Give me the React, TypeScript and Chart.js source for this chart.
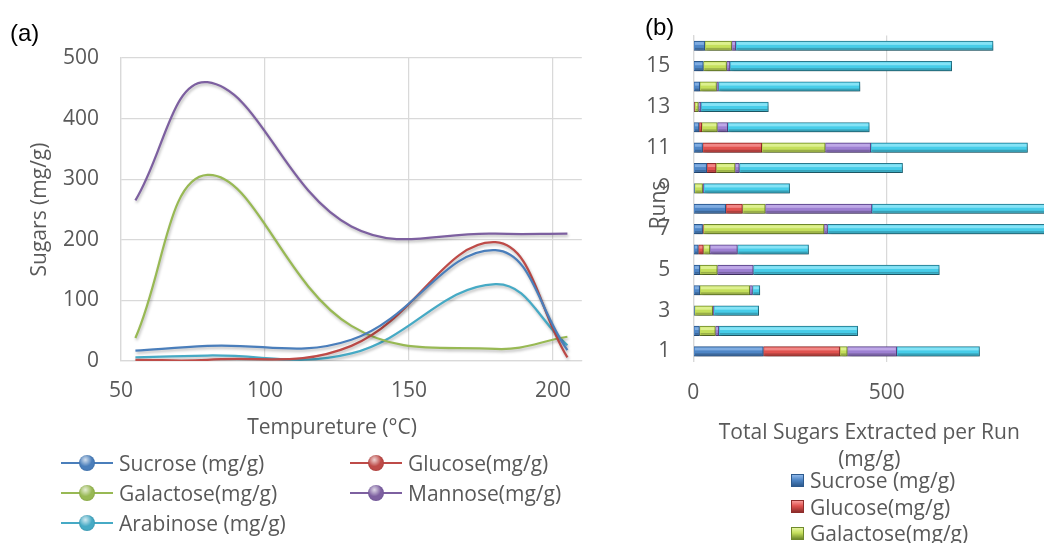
import React, { useEffect, useRef } from 'react';
import { Chart, registerables } from 'chart.js';

Chart.register(...registerables);

// ---------- Panel (a) data ----------
const temperatures = [55, 80, 130, 180, 205];
const sucroseByTemp = [17, 25, 35, 183, 18];
const glucoseByTemp = [2, 2, 25, 196, 6];
const galactoseByTemp = [38, 307, 58, 20, 40];
const mannoseByTemp = [265, 460, 222, 210, 210];
const arabinoseByTemp = [6, 9, 12.5, 127, 26];
const tempTicks = [50, 100, 150, 200];
const sugarTicks = [0, 100, 200, 300, 400, 500];

// ---------- Panel (b) data ----------
const runs = ['1', '2', '3', '4', '5', '6', '7', '8', '9', '10', '11', '12', '13', '14', '15', '16'];
const runSucrose = [181, 16, 3, 17, 17, 13, 24, 84, 3, 35, 24, 15, 2, 17, 26, 30];
const runGlucose = [198, 0, 0, 0, 0, 13, 2, 43, 0, 24, 153, 7, 2, 0, 0, 0];
const runGalactose = [19, 41, 47, 129, 45, 17, 312, 59, 21, 49, 164, 40, 9, 43, 60, 69];
const runMannose = [128, 9, 3, 7, 93, 71, 9, 276, 3, 11, 118, 27, 7, 5, 9, 11];
const runArabinose = [214, 359, 116, 19, 481, 184, 650, 520, 222, 422, 405, 366, 174, 366, 573, 665];
const totalTicks = [0, 500];

const seriesNames = ['Sucrose (mg/g)', 'Glucose(mg/g)', 'Galactose(mg/g)', 'Mannose(mg/g)', 'Arabinose (mg/g)'];
const lineColors = ['#4a7ebb', '#be4b48', '#98b954', '#7d60a0', '#46aac5'];
const barFill = ['#4f86c6', '#e0524f', '#c4df5b', '#9d80d2', '#47cde9'];
const barEdge = ['#2d5a8e', '#8e2d2b', '#6f8a2c', '#5a4487', '#2a7a8e'];
const barLight = ['#8fb8ea', '#f79a98', '#e6f5a0', '#c9b6ee', '#9aeafa'];

const FONT = '"Open Sans", "Noto Sans", sans-serif';
const TXT = '#595959';
const GRID = '#d9d9d9';

const tickFont = { family: FONT, size: 21 };

const lineShadowPlugin = {
  id: 'lineShadow',
  beforeDatasetsDraw(chart: any) {
    const ctx = chart.ctx;
    ctx.save();
    ctx.shadowColor = 'rgba(0,0,0,0.28)';
    ctx.shadowBlur = 3;
    ctx.shadowOffsetX = 1;
    ctx.shadowOffsetY = 2;
  },
  afterDatasetsDraw(chart: any) {
    chart.ctx.restore();
  },
};

const barShadowBevelPlugin = {
  id: 'barShadowBevel',
  beforeDatasetsDraw(chart: any) {
    const ctx = chart.ctx;
    ctx.save();
    ctx.shadowColor = 'rgba(0,0,0,0.35)';
    ctx.shadowBlur = 4;
    ctx.shadowOffsetX = 1;
    ctx.shadowOffsetY = 3;
  },
  afterDatasetsDraw(chart: any) {
    const ctx = chart.ctx;
    ctx.restore();
    ctx.save();
    chart.data.datasets.forEach((ds: any, di: number) => {
      const meta = chart.getDatasetMeta(di);
      meta.data.forEach((el: any) => {
        const p = el.getProps(['x', 'y', 'base', 'height'], true);
        const left = Math.min(p.x, p.base);
        const w = Math.abs(p.x - p.base);
        if (w < 2) return;
        const top = p.y - p.height / 2;
        const h = p.height;
        ctx.fillStyle = barLight[di];
        ctx.globalAlpha = 0.75;
        ctx.fillRect(left + 1, top + 1, w - 2, h * 0.3);
        ctx.globalAlpha = 0.22;
        ctx.fillStyle = '#000';
        ctx.fillRect(left + 1, top + h * 0.72, w - 2, h * 0.28 - 1);
        ctx.globalAlpha = 1;
      });
    });
    ctx.restore();
  },
};

function freeTextPlugin(items: { text: string; x: number; y: number; rotate?: number }[]) {
  return {
    id: 'freeText',
    afterDraw(chart: any) {
      const ctx = chart.ctx;
      items.forEach((it) => {
        ctx.save();
        ctx.translate(it.x, it.y);
        if (it.rotate) ctx.rotate(it.rotate);
        ctx.font = `21px ${FONT}`;
        ctx.fillStyle = TXT;
        ctx.textAlign = 'center';
        ctx.textBaseline = 'middle';
        ctx.fillText(it.text, 0, 0);
        ctx.restore();
      });
    },
  };
}

export default function App() {
  const leftRef = useRef<HTMLCanvasElement>(null);
  const rightRef = useRef<HTMLCanvasElement>(null);

  useEffect(() => {
    const lineSeries = [sucroseByTemp, glucoseByTemp, galactoseByTemp, mannoseByTemp, arabinoseByTemp];
    const left = new Chart(leftRef.current as HTMLCanvasElement, {
      type: 'line',
      data: {
        datasets: lineSeries.map((s, i) => ({
          label: seriesNames[i],
          data: temperatures.map((t, j) => ({ x: t, y: s[j] })),
          borderColor: lineColors[i],
          backgroundColor: lineColors[i],
          borderWidth: 2.25,
          pointRadius: 0,
          tension: 0.4,
          capBezierPoints: false,
          fill: false,
        })),
      },
      options: {
        responsive: false,
        animation: false,
        devicePixelRatio: 1,
        layout: { padding: { top: 58, right: 18.2, left: 0, bottom: 0 } },
        plugins: { legend: { display: false }, tooltip: { enabled: false } },
        scales: {
          x: {
            type: 'linear',
            min: 50,
            max: 210,
            afterBuildTicks: (s: any) => {
              s.ticks = tempTicks.map((v) => ({ value: v }));
            },
            afterFit: (s: any) => {
              s.height = 89;
            },
            grid: { color: GRID, drawTicks: false, lineWidth: 1.25 },
            border: { color: GRID, width: 1.25 },
            ticks: { padding: 17, color: TXT, font: tickFont },
          },
          y: {
            min: 0,
            max: 500,
            afterBuildTicks: (s: any) => {
              s.ticks = sugarTicks.map((v) => ({ value: v }));
            },
            afterFit: (s: any) => {
              s.width = 121;
            },
            grid: { color: GRID, drawTicks: false, lineWidth: 1.25 },
            border: { color: GRID, width: 1.25 },
            ticks: { padding: 22, color: TXT, font: tickFont },
            title: {
              display: true,
              text: 'Sugars (mg/g)',
              color: TXT,
              font: tickFont,
              padding: { top: 27, bottom: 0 },
            },
          },
        },
      } as any,
      plugins: [lineShadowPlugin, freeTextPlugin([{ text: 'Tempureture (°C)', x: 332, y: 428 }])],
    });

    const barSeries = [runSucrose, runGlucose, runGalactose, runMannose, runArabinose];
    const right = new Chart(rightRef.current as HTMLCanvasElement, {
      type: 'bar',
      data: {
        labels: runs,
        datasets: barSeries.map((s, i) => ({
          label: seriesNames[i],
          data: s,
          backgroundColor: barFill[i],
          borderColor: barEdge[i],
          borderWidth: 1,
          barThickness: 9.5,
        })),
      },
      options: {
        indexAxis: 'y',
        responsive: false,
        animation: false,
        devicePixelRatio: 1,
        layout: { padding: { top: 34.5, right: 14.7, left: 0, bottom: 0 } },
        plugins: { legend: { display: false }, tooltip: { enabled: false } },
        scales: {
          x: {
            stacked: true,
            min: 0,
            max: 910,
            afterBuildTicks: (s: any) => {
              s.ticks = totalTicks.map((v) => ({ value: v }));
            },
            afterFit: (s: any) => {
              s.height = 543 - 361.5;
            },
            grid: { color: GRID, drawTicks: false, lineWidth: 1.25 },
            border: { display: false },
            ticks: { padding: 19, color: TXT, font: tickFont },
            title: {
              display: true,
              text: ['Total Sugars Extracted per Run', '(mg/g)'],
              color: TXT,
              font: { family: FONT, size: 21, lineHeight: 27 / 21 },
              padding: { top: 0, bottom: 69.5 },
            },
          },
          y: {
            stacked: true,
            reverse: true,
            afterFit: (s: any) => {
              s.width = 63.3;
            },
            grid: { drawOnChartArea: false, drawTicks: false },
            border: { display: true, color: GRID, width: 1.25 },
            ticks: {
              autoSkip: false,
              padding: 23,
              color: TXT,
              font: tickFont,
              callback: (_v: any, i: number) => (i % 2 === 0 ? runs[i] : ''),
            },
          },
        },
      } as any,
      plugins: [barShadowBevelPlugin, freeTextPlugin([{ text: 'Runs', x: 29, y: 205, rotate: -Math.PI / 2 }])],
    });

    return () => {
      left.destroy();
      right.destroy();
    };
  }, []);

  const leftLegendPos = [
    { x: 61, y: 463 },
    { x: 350, y: 463 },
    { x: 61, y: 493 },
    { x: 350, y: 493 },
    { x: 61, y: 523 },
  ];

  return (
    <div
      style={{
        position: 'fixed',
        left: 0,
        top: 0,
        width: 1044,
        height: 543,
        overflow: 'hidden',
        background: '#ffffff',
        fontFamily: FONT,
      }}
    >
      <canvas ref={leftRef} width={600} height={450} style={{ position: 'absolute', left: 0, top: 0, display: 'block' }} />
      <canvas ref={rightRef} width={430} height={543} style={{ position: 'absolute', left: 630, top: 0, display: 'block' }} />

      <div style={{ position: 'absolute', left: 10, top: 18, fontFamily: '"Liberation Sans", Arial, sans-serif', fontSize: 24, lineHeight: '30px', color: '#000' }}>(a)</div>
      <div style={{ position: 'absolute', left: 645, top: 12, fontFamily: '"Liberation Sans", Arial, sans-serif', fontSize: 24, lineHeight: '30px', color: '#000' }}>(b)</div>

      {seriesNames.map((name, i) => (
        <div
          key={'l' + i}
          style={{ position: 'absolute', left: leftLegendPos[i].x, top: leftLegendPos[i].y - 15, height: 30, display: 'flex', alignItems: 'center' }}
        >
          <div style={{ position: 'relative', width: 52, height: 30 }}>
            <div style={{ position: 'absolute', left: 0, top: 14, width: 52, height: 2, background: lineColors[i] }} />
            <div
              style={{
                position: 'absolute',
                left: 18,
                top: 7,
                width: 16,
                height: 16,
                borderRadius: '50%',
                background: `radial-gradient(circle at 40% 30%, rgba(255,255,255,0.75), rgba(255,255,255,0) 45%), radial-gradient(circle at 50% 50%, ${lineColors[i]} 55%, ${barEdge[i]} 100%)`,
              }}
            />
          </div>
          <span style={{ marginLeft: 6, fontSize: 21, color: TXT, whiteSpace: 'nowrap' }}>{name}</span>
        </div>
      ))}

      {seriesNames.map((name, i) => (
        <div
          key={'r' + i}
          style={{ position: 'absolute', left: 791, top: 480 + i * 26.7 - 14, height: 28, display: 'flex', alignItems: 'center' }}
        >
          <div
            style={{
              width: 11,
              height: 11,
              border: `1px solid ${barEdge[i]}`,
              background: `linear-gradient(to bottom, ${barLight[i]} 0%, ${barFill[i]} 45%, ${barEdge[i]} 100%)`,
            }}
          />
          <span style={{ marginLeft: 6, fontSize: 21, color: TXT, whiteSpace: 'nowrap' }}>{name}</span>
        </div>
      ))}
    </div>
  );
}
